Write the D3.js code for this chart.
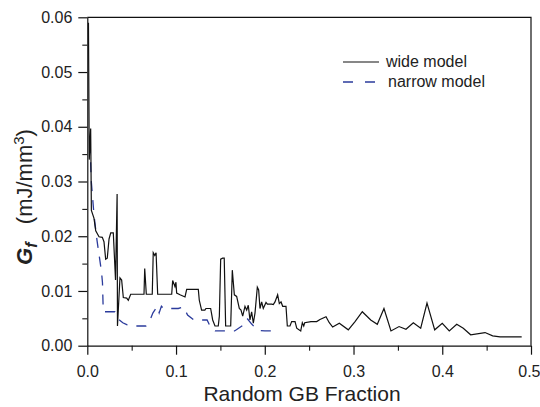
<!DOCTYPE html>
<html>
<head>
<meta charset="utf-8">
<script src="https://cdn.jsdelivr.net/npm/d3@7"></script>
<style>
  body { margin: 0; background: #fff; }
  text { font-family: "Liberation Sans", Arial, sans-serif; fill: #222; }
</style>
</head>
<body>
<div id="chart"></div>
<script>
// data
const wideX = [0.0013, 0.0022, 0.0038, 0.0046, 0.0075, 0.0095, 0.0132, 0.0169, 0.0188, 0.0207, 0.0225, 0.0245, 0.0264, 0.0293, 0.0318, 0.0336, 0.0340, 0.0368, 0.0387, 0.0406, 0.0444, 0.0462, 0.0489, 0.0639, 0.0647, 0.0665, 0.0732, 0.0743, 0.0760, 0.0775, 0.0793, 0.0951, 0.0962, 0.0988, 0.0999, 0.1007, 0.1045, 0.1101, 0.1120, 0.1251, 0.1262, 0.1288, 0.1325, 0.1337, 0.1390, 0.1413, 0.1439, 0.1476, 0.1488, 0.1503, 0.1525, 0.1543, 0.1559, 0.1616, 0.1634, 0.1657, 0.1683, 0.1713, 0.1732, 0.1751, 0.1777, 0.1796, 0.1814, 0.1833, 0.1852, 0.1871, 0.1890, 0.1916, 0.1931, 0.1946, 0.1965, 0.1983, 0.2014, 0.2029, 0.2078, 0.2096, 0.2115, 0.2145, 0.2164, 0.2183, 0.2202, 0.2239, 0.2254, 0.2284, 0.2303, 0.2341, 0.2360, 0.2405, 0.2423, 0.2439, 0.2450, 0.2521, 0.2585, 0.2622, 0.2690, 0.2727, 0.2765, 0.2840, 0.2941, 0.3017, 0.3099, 0.3194, 0.3268, 0.3343, 0.3422, 0.3513, 0.3591, 0.3674, 0.3757, 0.3828, 0.3915, 0.4000, 0.4079, 0.4163, 0.4237, 0.4320, 0.4482, 0.4568, 0.4651, 0.4895];
const wideY = [0.0590, 0.0340, 0.0397, 0.0247, 0.0233, 0.0210, 0.0199, 0.0198, 0.0190, 0.0158, 0.0160, 0.0195, 0.0206, 0.0206, 0.0120, 0.0277, 0.0036, 0.0124, 0.0120, 0.0088, 0.0087, 0.0083, 0.0094, 0.0094, 0.0141, 0.0094, 0.0094, 0.0170, 0.0165, 0.0170, 0.0094, 0.0094, 0.0119, 0.0108, 0.0116, 0.0096, 0.0093, 0.0089, 0.0103, 0.0103, 0.0083, 0.0065, 0.0065, 0.0068, 0.0068, 0.0047, 0.0036, 0.0036, 0.0054, 0.0158, 0.0160, 0.0160, 0.0036, 0.0036, 0.0138, 0.0093, 0.0090, 0.0068, 0.0065, 0.0054, 0.0072, 0.0065, 0.0074, 0.0047, 0.0062, 0.0041, 0.0060, 0.0107, 0.0102, 0.0068, 0.0080, 0.0068, 0.0079, 0.0076, 0.0076, 0.0075, 0.0080, 0.0093, 0.0077, 0.0080, 0.0072, 0.0072, 0.0036, 0.0036, 0.0044, 0.0044, 0.0032, 0.0027, 0.0042, 0.0036, 0.0042, 0.0044, 0.0044, 0.0048, 0.0053, 0.0042, 0.0034, 0.0041, 0.0029, 0.0044, 0.0062, 0.0047, 0.0039, 0.0068, 0.0027, 0.0035, 0.0030, 0.0042, 0.0032, 0.0078, 0.0029, 0.0041, 0.0027, 0.0039, 0.0032, 0.0020, 0.0024, 0.0018, 0.0016, 0.0016];

const narrowX = [0.0030, 0.0044, 0.0076, 0.0109, 0.0160, 0.0171, 0.0180, 0.0237, 0.0311, 0.0340, 0.0400, 0.0450, 0.0520, 0.0660, 0.0700, 0.0740, 0.0790, 0.0810, 0.0835, 0.0860, 0.0930, 0.1025, 0.1085, 0.1130, 0.1200, 0.1350, 0.1400, 0.1440, 0.1600, 0.1660, 0.1750, 0.1800, 0.1850, 0.1920, 0.2000, 0.2160];
const narrowY = [0.0370, 0.0302, 0.0238, 0.0193, 0.0135, 0.0115, 0.0062, 0.0062, 0.0062, 0.0050, 0.0042, 0.0038, 0.0036, 0.0036, 0.0044, 0.0060, 0.0072, 0.0060, 0.0072, 0.0068, 0.0068, 0.0068, 0.0071, 0.0056, 0.0047, 0.0047, 0.0030, 0.0027, 0.0027, 0.0027, 0.0037, 0.0050, 0.0040, 0.0028, 0.0027, 0.0027];

const xTicks = [0, 0.1, 0.2, 0.3, 0.4, 0.5];
const yTicks = [0, 0.01, 0.02, 0.03, 0.04, 0.05, 0.06];
const seriesNames = ["wide model", "narrow model"];

//set dimensions
const width = 540,
    height = 407,
    margin = { top: 17.3, right: 9, bottom: 61.3, left: 87.3 };

const svg = d3.select("#chart")
    .append("svg")
    .attr("width", width)
    .attr("height", height);

// scales
const xScale = d3.scaleLinear()
    .domain([0, 0.5])
    .range([margin.left, width - margin.right]);
const yScale = d3.scaleLinear()
    .domain([0, 0.06])
    .range([height - margin.bottom, margin.top]);

// minor ticks
svg.append("g")
    .attr("transform", `translate(0, ${height - margin.bottom})`)
    .call(d3.axisBottom(xScale).tickValues(d3.range(0.05, 0.5, 0.1)).tickSize(5).tickSizeOuter(0).tickFormat(""))
    .call(g => g.select(".domain").remove());
svg.append("g")
    .attr("transform", `translate(${margin.left}, 0)`)
    .call(d3.axisLeft(yScale).tickValues(d3.range(0.005, 0.06, 0.01)).tickSize(5).tickSizeOuter(0).tickFormat(""))
    .call(g => g.select(".domain").remove());

// major axes
const xAxis = svg.append("g")
    .attr("transform", `translate(0, ${height - margin.bottom})`)
    .call(d3.axisBottom(xScale).tickValues(xTicks).tickSize(9).tickSizeOuter(0).tickPadding(8).tickFormat(d3.format(".1f")));
const yAxis = svg.append("g")
    .attr("transform", `translate(${margin.left}, 0)`)
    .call(d3.axisLeft(yScale).tickValues(yTicks).tickSize(9).tickSizeOuter(0).tickPadding(6).tickFormat(d3.format(".2f")));

[xAxis, yAxis].forEach(a => {
    a.selectAll("text").attr("font-size", 16).attr("font-family", null).style("fill", "#222");
    a.selectAll("line, path").attr("stroke", "#111").attr("stroke-width", 1.2);
});
xAxis.selectAll("text").attr("dy", "0.9em");
// last label sits at the window edge
xAxis.selectAll(".tick text").filter(d => d === 0.5).attr("text-anchor", "end").attr("x", 9);

// box top / right
svg.append("path")
    .attr("d", `M${margin.left},${margin.top}H${width - margin.right}V${height - margin.bottom}`)
    .attr("fill", "none")
    .attr("stroke", "#111")
    .attr("stroke-width", 1.2);

// lines
const line = d3.line()
    .x(d => xScale(d[0]))
    .y(d => yScale(d[1]));

svg.append("path")
    .datum(narrowX.map((x, i) => [x, narrowY[i]]))
    .attr("d", line)
    .attr("fill", "none")
    .attr("stroke", "#2b3b9c")
    .attr("stroke-width", 1.3)
    .attr("stroke-dasharray", "10,9");

svg.append("path")
    .datum(wideX.map((x, i) => [x, wideY[i]]))
    .attr("d", line)
    .attr("fill", "none")
    .attr("stroke", "#111")
    .attr("stroke-width", 1.2);

// legend
const legend = svg.append("g");
legend.append("line")
    .attr("x1", 343).attr("x2", 379).attr("y1", 62).attr("y2", 62)
    .attr("stroke", "#111").attr("stroke-width", 1.2);
legend.append("line")
    .attr("x1", 343).attr("x2", 376).attr("y1", 82).attr("y2", 82)
    .attr("stroke", "#2b3b9c").attr("stroke-width", 1.3)
    .attr("stroke-dasharray", "10,12");
legend.append("text").attr("x", 386).attr("y", 67).attr("font-size", 16).text(seriesNames[0]);
legend.append("text").attr("x", 388).attr("y", 87).attr("font-size", 16).text(seriesNames[1]);

// axis titles
svg.append("text")
    .attr("x", 302)
    .attr("y", 401)
    .attr("text-anchor", "middle")
    .attr("font-size", 21)
    .text("Random GB Fraction");

const yTitle = svg.append("text")
    .attr("transform", "translate(32, 197) rotate(-90)")
    .attr("text-anchor", "middle")
    .attr("font-size", 22);
yTitle.append("tspan").attr("font-weight", "bold").attr("font-style", "italic").text("G");
yTitle.append("tspan").attr("font-weight", "bold").attr("font-style", "italic").attr("font-size", 16).attr("dy", 5).text("f");
yTitle.append("tspan").attr("dy", -5).text("\u00a0\u00a0\u00a0(mJ/mm");
yTitle.append("tspan").attr("font-size", 15).attr("dy", -8).text("3");
yTitle.append("tspan").attr("dy", 8).text(")");
</script>
</body>
</html>
